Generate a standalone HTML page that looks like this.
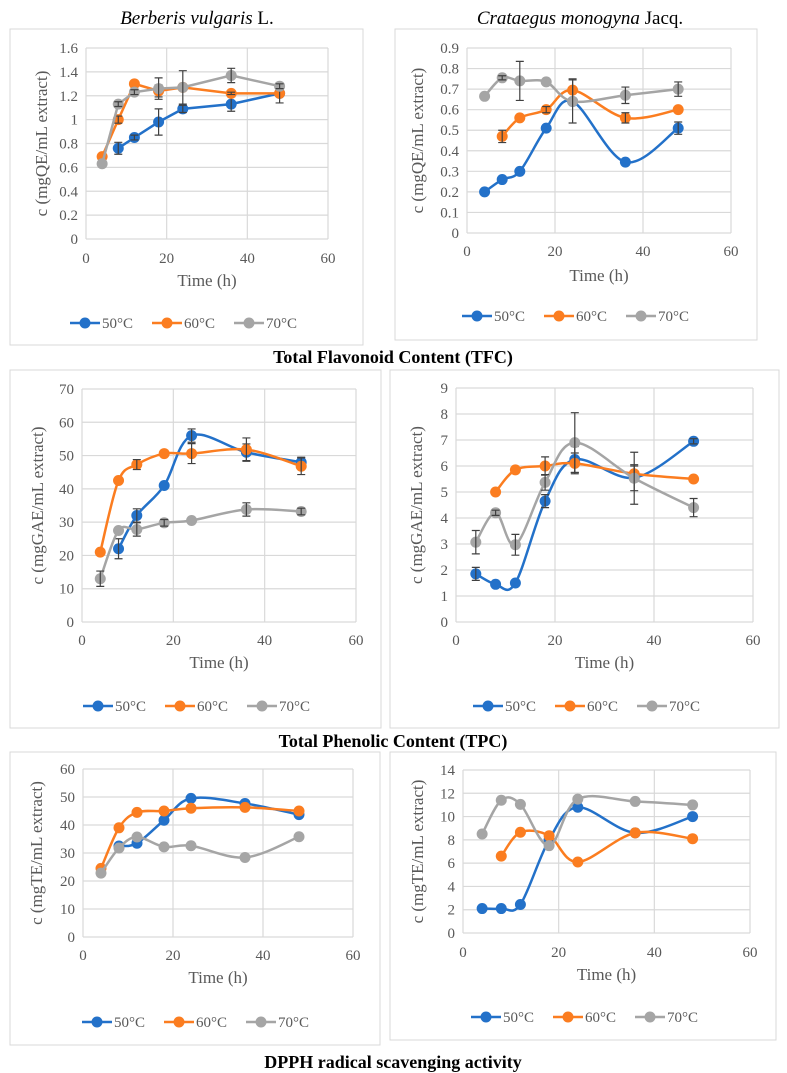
<!DOCTYPE html>
<html><head><meta charset="utf-8"><style>
body{margin:0;background:#fff;}
svg{display:block;font-family:"Liberation Serif",serif;}
</style></head><body>
<svg id="fig" width="787" height="1073" viewBox="0 0 787 1073">
<rect x="0" y="0" width="787" height="1073" fill="#fff"/>
<text x="197" y="24" text-anchor="middle" font-size="19"><tspan font-style="italic">Berberis vulgaris</tspan> L.</text>
<text x="580" y="24" text-anchor="middle" font-size="19"><tspan font-style="italic">Crataegus monogyna</tspan> Jacq.</text>
<text x="393" y="363" text-anchor="middle" font-size="18" font-weight="bold">Total Flavonoid Content (TFC)</text>
<text x="393" y="747" text-anchor="middle" font-size="18" font-weight="bold">Total Phenolic Content (TPC)</text>
<text x="393" y="1068" text-anchor="middle" font-size="18" font-weight="bold">DPPH radical scavenging activity</text>
</svg>
<script>
// Panel 1: Berberis TFC
const p1_x50=[8,12,18,24,36,48], p1_y50=[0.76,0.85,0.98,1.09,1.13,1.22], p1_e50=[0.05,0.02,0.11,0.03,0.06,0.02];
const p1_x60=[4,8,12,18,24,36,48], p1_y60=[0.69,1.0,1.3,1.24,1.27,1.22,1.22], p1_e60=[0,0.03,0,0.05,0,0.01,0.08];
const p1_x70=[4,8,12,18,24,36,48], p1_y70=[0.63,1.13,1.23,1.26,1.27,1.37,1.28], p1_e70=[0,0.02,0.02,0.09,0.14,0.06,0.02];
const p1_yticks=["0","0.2","0.4","0.6","0.8","1","1.2","1.4","1.6"];
// Panel 2: Crataegus TFC
const p2_x50=[4,8,12,18,24,36,48], p2_y50=[0.2,0.26,0.3,0.51,0.64,0.345,0.51], p2_e50=[0,0,0,0,0,0,0.03];
const p2_x60=[8,12,18,24,36,48], p2_y60=[0.47,0.56,0.6,0.695,0.56,0.6], p2_e60=[0.03,0,0.015,0.055,0.025,0];
const p2_x70=[4,8,12,18,24,36,48], p2_y70=[0.665,0.755,0.74,0.735,0.64,0.67,0.7], p2_e70=[0,0.01,0.095,0,0.105,0.04,0.035];
const p2_yticks=["0","0.1","0.2","0.3","0.4","0.5","0.6","0.7","0.8","0.9"];
// Panel 3: Berberis TPC
const p3_x50=[8,12,18,24,36,48], p3_y50=[22,32,41,56,51,48], p3_e50=[3,2,0,2,2.5,1.5];
const p3_x60=[4,8,12,18,24,36,48], p3_y60=[21,42.5,47.3,50.6,50.6,51.8,46.8], p3_e60=[0,0,1.5,0,3,3.5,2.5];
const p3_x70=[4,8,12,18,24,36,48], p3_y70=[13,27.5,27.8,29.8,30.5,33.8,33.2], p3_e70=[2.3,0,2,1,0,2,1];
const p3_yticks=["0","10","20","30","40","50","60","70"];
// Panel 4: Crataegus TPC
const p4_x50=[4,8,12,18,24,36,48], p4_y50=[1.85,1.45,1.5,4.65,6.25,5.55,6.95], p4_e50=[0.25,0,0,0.25,0.5,0.5,0.1];
const p4_x60=[8,12,18,24,36,48], p4_y60=[5.0,5.85,6.0,6.1,5.7,5.5], p4_e60=[0,0,0.35,0.4,0.3,0];
const p4_x70=[4,8,12,18,24,36,48], p4_y70=[3.07,4.2,2.97,5.37,6.9,5.53,4.4], p4_e70=[0.45,0.1,0.4,0.3,1.15,1.0,0.35];
const p4_yticks=["0","1","2","3","4","5","6","7","8","9"];
// Panel 5: Berberis DPPH
const p5_x50=[8,12,18,24,36,48], p5_y50=[32.5,33.5,41.7,49.5,47.7,43.7];
const p5_x60=[4,8,12,18,24,36,48], p5_y60=[24.5,39,44.5,45,46,46.3,45];
const p5_x70=[4,8,12,18,24,36,48], p5_y70=[22.8,31.8,35.7,32.2,32.6,28.4,35.8];
const p5_yticks=["0","10","20","30","40","50","60"];
// Panel 6: Crataegus DPPH
const p6_x50=[4,8,12,18,24,36,48], p6_y50=[2.1,2.1,2.45,8.0,10.8,8.6,10.0];
const p6_x60=[8,12,18,24,36,48], p6_y60=[6.6,8.65,8.35,6.1,8.6,8.1];
const p6_x70=[4,8,12,18,24,36,48], p6_y70=[8.5,11.4,11.05,7.5,11.5,11.3,11.0];
const p6_yticks=["0","2","4","6","8","10","12","14"];
const xticks=["0","20","40","60"];
const seriesNames=["50°C","60°C","70°C"];

const svg=document.getElementById('fig');
const NS="http://www.w3.org/2000/svg";
const COLORS=["#2371c9","#fb7d20","#a5a5a5"];
function mk(tag,attrs,parent){const e=document.createElementNS(NS,tag);for(const k in attrs)e.setAttribute(k,attrs[k]);(parent||svg).appendChild(e);return e;}
function pathFor(pts,smooth){
  let d="M"+pts[0][0]+","+pts[0][1];
  for(let i=1;i<pts.length;i++){
    if(!smooth){d+=" L"+pts[i][0]+","+pts[i][1];continue;}
    const p0=pts[i-2]||pts[i-1],p1=pts[i-1],p2=pts[i],p3=pts[i+1]||p2,t=6;
    const c1=[p1[0]+(p2[0]-p0[0])/t,p1[1]+(p2[1]-p0[1])/t];
    const c2=[p2[0]-(p3[0]-p1[0])/t,p2[1]-(p3[1]-p1[1])/t];
    d+=" C"+c1+" "+c2+" "+p2;
  }
  return d;
}
function panel(id,P){
  const g=mk('g',{});
  
  
  const fr=mk('rect',{x:P.fx,y:P.fy,width:P.fw,height:P.fh,fill:'#fff',stroke:'#d9d9d9','stroke-width':1},g);
  
  
  const ymax=parseFloat(P.yt[P.yt.length-1]);
  const X=v=>P.x0+(P.x1-P.x0)*v/60;
  const Y=v=>P.y0-(P.y0-P.y1)*v/ymax;
  P.yt.forEach(t=>{
    const v=parseFloat(t);
    mk('line',{x1:P.x0,x2:P.x1,y1:Y(v),y2:Y(v),stroke:'#d9d9d9','stroke-width':1.2},g);
    const tx=mk('text',{x:P.x0-8,y:Y(v)+5,'text-anchor':'end','font-size':15,fill:'#595959'},g);
    tx.textContent=t;
    
    
  });
  xticks.forEach(t=>{
    const v=parseFloat(t);
    mk('line',{x1:X(v),x2:X(v),y1:P.y0,y2:P.y1,stroke:'#d9d9d9','stroke-width':1.2},g);
    const tx=mk('text',{x:X(v),y:P.xty,'text-anchor':'middle','font-size':15,fill:'#595959'},g);
    tx.textContent=t;
    
    
  });
  const xt=mk('text',{x:(P.x0+P.x1)/2,y:P.xtl,'text-anchor':'middle','font-size':17,fill:'#595959'},g);
  xt.textContent="Time (h)";
  
  
  const ycy=(P.y0+P.y1)/2;
  const yt=mk('text',{x:P.ytx,y:ycy,'text-anchor':'middle','font-size':17,fill:'#595959',transform:'rotate(-90 '+P.ytx+' '+ycy+')'},g);
  yt.textContent=P.ylab;
  
  
  P.series.forEach((s,i)=>{
    const sg=mk('g',{},g);
    
    
    const pts=s.x.map((xv,j)=>[X(xv),Y(s.y[j])]);
    mk('path',{d:pathFor(pts,P.smooth),fill:'none',stroke:COLORS[i],'stroke-width':2.5},sg);
    pts.forEach((p,j)=>{
      const c=mk('circle',{cx:p[0],cy:p[1],r:5.5,fill:COLORS[i]},sg);
      
      
    });
    if(s.e){pts.forEach((p,j)=>{const e=s.e[j];if(!e)return;
      const a=Y(s.y[j]+e),b=Y(s.y[j]-e);
      mk('path',{d:`M${p[0]},${a}V${b}M${p[0]-4},${a}H${p[0]+4}M${p[0]-4},${b}H${p[0]+4}`,stroke:'#404040','stroke-width':1.2,fill:'none'},sg);
    });}
  });
  const lg=mk('g',{},g);
  
  
  const lw=[0,82,164];
  seriesNames.forEach((n,i)=>{
    const lx=P.lgx+lw[i];
    const eg=mk('g',{},lg);
    
    
    mk('line',{x1:lx,x2:lx+30,y1:P.lgy,y2:P.lgy,stroke:COLORS[i],'stroke-width':2.5},eg);
    mk('circle',{cx:lx+15,cy:P.lgy,r:5.5,fill:COLORS[i]},eg);
    const t=mk('text',{x:lx+32,y:P.lgy+5,'font-size':15,fill:'#595959'},eg);
    t.textContent=n;
  });
}
panel('berberis-tfc',{fx:10,fy:29,fw:353,fh:316,x0:86,x1:328,y0:239,y1:48,xty:263,xtl:286,ytx:47,lgx:70,lgy:323,yt:p1_yticks,smooth:false,ylab:"c (mgQE/mL extract)",
  series:[{x:p1_x50,y:p1_y50,e:p1_e50},{x:p1_x60,y:p1_y60,e:p1_e60},{x:p1_x70,y:p1_y70,e:p1_e70}]});
panel('crataegus-tfc',{fx:395,fy:29,fw:362,fh:311,x0:467,x1:731,y0:233,y1:48,xty:256,xtl:281,ytx:423,lgx:462,lgy:316,yt:p2_yticks,smooth:true,ylab:"c (mgQE/mL extract)",
  series:[{x:p2_x50,y:p2_y50,e:p2_e50},{x:p2_x60,y:p2_y60,e:p2_e60},{x:p2_x70,y:p2_y70,e:p2_e70}]});
panel('berberis-tpc',{fx:10,fy:370,fw:371,fh:358,x0:82,x1:356,y0:622,y1:389,xty:645,xtl:668,ytx:43,lgx:83,lgy:706,yt:p3_yticks,smooth:true,ylab:"c (mgGAE/mL extract)",
  series:[{x:p3_x50,y:p3_y50,e:p3_e50},{x:p3_x60,y:p3_y60,e:p3_e60},{x:p3_x70,y:p3_y70,e:p3_e70}]});
panel('crataegus-tpc',{fx:390,fy:370,fw:389,fh:358,x0:456,x1:753,y0:622,y1:388,xty:645,xtl:668,ytx:422,lgx:473,lgy:706,yt:p4_yticks,smooth:true,ylab:"c (mgGAE/mL extract)",
  series:[{x:p4_x50,y:p4_y50,e:p4_e50},{x:p4_x60,y:p4_y60,e:p4_e60},{x:p4_x70,y:p4_y70,e:p4_e70}]});
panel('berberis-dpph',{fx:10,fy:752,fw:370,fh:293,x0:83,x1:353,y0:937,y1:769,xty:960,xtl:983,ytx:42,lgx:82,lgy:1022,yt:p5_yticks,smooth:true,ylab:"c (mgTE/mL extract)",
  series:[{x:p5_x50,y:p5_y50},{x:p5_x60,y:p5_y60},{x:p5_x70,y:p5_y70}]});
panel('crataegus-dpph',{fx:390,fy:752,fw:386,fh:288,x0:463,x1:750,y0:933,y1:770,xty:957,xtl:980,ytx:423,lgx:471,lgy:1017,yt:p6_yticks,smooth:true,ylab:"c (mgTE/mL extract)",
  series:[{x:p6_x50,y:p6_y50},{x:p6_x60,y:p6_y60},{x:p6_x70,y:p6_y70}]});
</script>
</body></html>
